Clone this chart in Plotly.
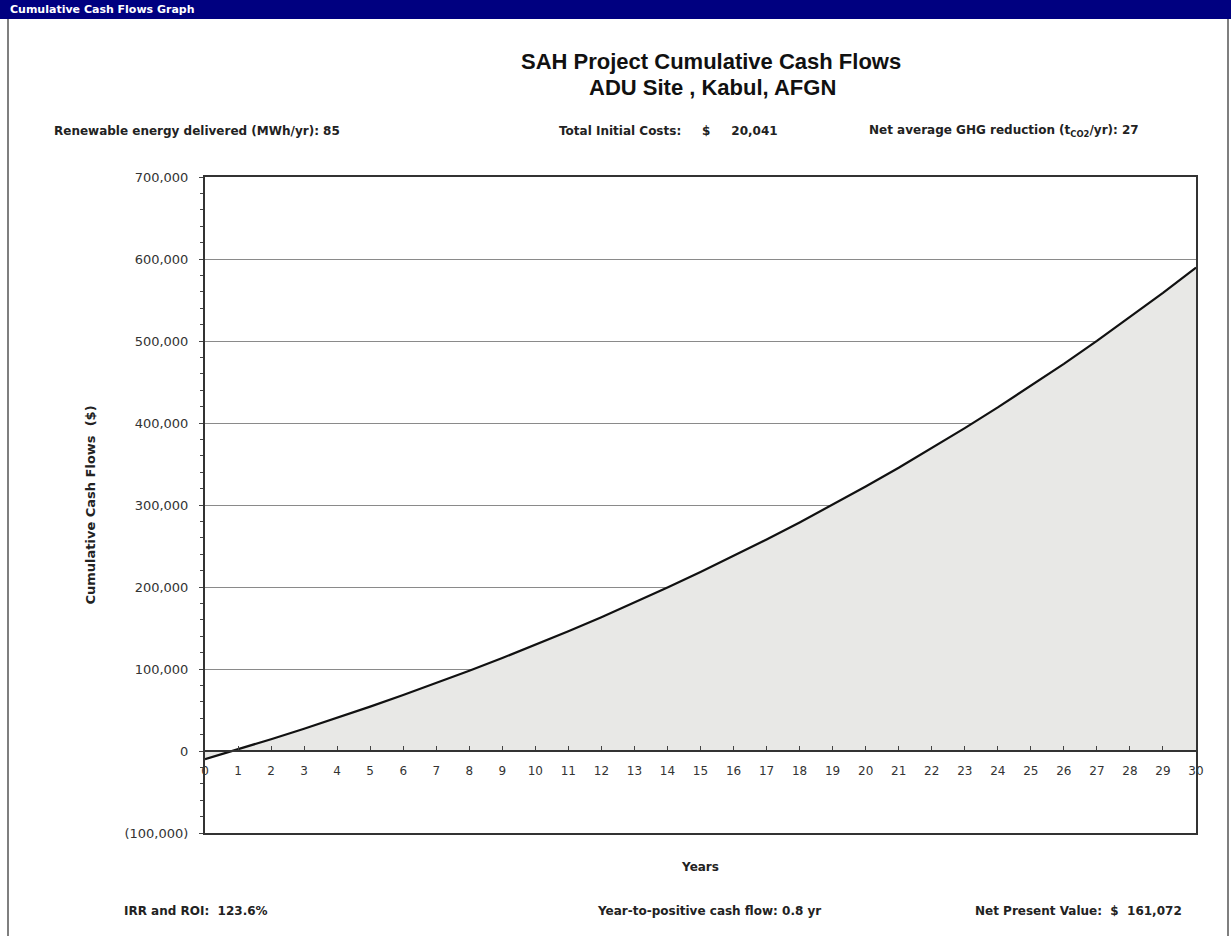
import plotly.graph_objects as go

# ---- data ----
years = list(range(0, 31))
cumulative_cash = [
    -10000, 2000, 14400, 27200, 40400, 54100, 68200, 82800, 97900, 113400,
    129500, 146100, 163200, 181000, 199300, 218200, 237700, 257900, 278700,
    300200, 322500, 345400, 369200, 393700, 419000, 445200, 472200, 500100,
    528900, 558700, 589500,
]
y_tick_vals = [-100000, 0, 100000, 200000, 300000, 400000, 500000, 600000, 700000]
y_tick_text = ["(100,000)", "0", "100,000", "200,000", "300,000", "400,000",
               "500,000", "600,000", "700,000"]
x_tick_vals = list(range(0, 31))

title_main = "SAH Project Cumulative Cash Flows"
title_sub = "ADU Site , Kabul, AFGN"
header_text = "Cumulative Cash Flows Graph"
top_info = [
    ("Renewable energy delivered (MWh/yr): 85", 52),
    ("Total Initial Costs:     $     20,041", 557),
    ("Net average GHG reduction (t<sub>CO2</sub>/yr): 27", 867),
]
bottom_info = [
    ("IRR and ROI:  123.6%", 122),
    ("Year-to-positive cash flow: 0.8 yr", 595),
    ("Net Present Value:  $  161,072", 973),
]

W, H = 1231, 936
L, R, T, B = 205, 35, 177, 103
PW, PH = W - L - R, H - T - B
FONT = "DejaVu Sans, Verdana, sans-serif"
TFONT = "Liberation Sans, Arial, sans-serif"

fig = go.Figure()
fig.add_trace(go.Scatter(
    x=years, y=cumulative_cash, mode="lines",
    line=dict(color="#111111", width=2.2),
    fill="tozeroy", fillcolor="#E8E8E6",
    hoverinfo="x+y", showlegend=False, xaxis="x", yaxis="y",
))
# same series on the frame axis (invisible) so the frame axis is drawn
fig.add_trace(go.Scatter(
    x=years, y=cumulative_cash, mode="lines",
    line=dict(color="rgba(0,0,0,0)", width=0),
    hoverinfo="skip", showlegend=False, xaxis="x2", yaxis="y",
))

ymin, ymax = -100000, 700000
zero_pos = (0 - ymin) / (ymax - ymin)

fig.update_layout(
    width=W, height=H,
    margin=dict(l=L, r=R, t=T, b=B),
    paper_bgcolor="white", plot_bgcolor="white",
    font=dict(family=FONT, size=12, color="#222"),
    showlegend=False,
    xaxis=dict(
        range=[0, 30], anchor="free", position=zero_pos,
        tickvals=x_tick_vals, ticktext=[str(v) for v in x_tick_vals],
        ticks="inside", ticklen=4, tickcolor="#444",
        ticklabelstandoff=9,
        showline=True, linecolor="#333", linewidth=2,
        showgrid=False, zeroline=False,
        tickfont=dict(size=12, color="#333", family=FONT),
    ),
    xaxis2=dict(
        range=[0, 30], overlaying="x", anchor="y", side="bottom",
        showline=True, mirror=True, linecolor="#333", linewidth=2,
        showticklabels=False, ticks="", showgrid=False, zeroline=False,
        title=dict(text="<b>Years</b>", font=dict(size=12, color="#222", family=FONT), standoff=29),
    ),
    yaxis=dict(
        range=[ymin, ymax],
        tickvals=y_tick_vals, ticktext=y_tick_text,
        ticks="outside", ticklen=4, tickcolor="#444",
        ticklabelstandoff=8,
        minor=dict(dtick=20000, ticks="outside", ticklen=3, tickcolor="#444", showgrid=False),
        showline=True, mirror=True, linecolor="#333", linewidth=2,
        showgrid=True, gridcolor="#8a8a8a", gridwidth=1,
        zeroline=False,
        tickfont=dict(size=13, color="#333", family=FONT),
        title=dict(text="<b>Cumulative Cash Flows  ($)</b>", font=dict(size=13, color="#222", family=FONT), standoff=26),
    ),
)


def px_x(px):
    return (px - L) / PW


def px_y(py):
    return 1 - (py - T) / PH


# header bar and outer frame
fig.add_shape(type="rect", xref="paper", yref="paper",
              x0=px_x(0), x1=px_x(W), y0=px_y(19), y1=px_y(0),
              fillcolor="#000080", line=dict(width=0), layer="above")
for xp in [8, 1228]:
    fig.add_shape(type="line", xref="paper", yref="paper",
                  x0=px_x(xp), x1=px_x(xp), y0=px_y(H), y1=px_y(19),
                  line=dict(color="#555", width=1.5))

fig.add_annotation(text="<b>" + header_text + "</b>", x=px_x(8), y=px_y(10),
                   xref="paper", yref="paper", xanchor="left", yanchor="middle",
                   showarrow=False, font=dict(size=11, color="white", family=FONT))

fig.add_annotation(text="<b>" + title_main + "</b>", x=px_x(711), y=px_y(61),
                   xref="paper", yref="paper", xanchor="center", yanchor="middle",
                   showarrow=False, font=dict(size=22, color="#111", family=TFONT))
fig.add_annotation(text="<b>" + title_sub + "</b>", x=px_x(712), y=px_y(88),
                   xref="paper", yref="paper", xanchor="center", yanchor="middle",
                   showarrow=False, font=dict(size=22, color="#111", family=TFONT))

for txt, xp in top_info:
    fig.add_annotation(text="<b>" + txt + "</b>", x=px_x(xp), y=px_y(131),
                       xref="paper", yref="paper", xanchor="left", yanchor="middle",
                       showarrow=False, font=dict(size=12, color="#222", family=FONT))
for txt, xp in bottom_info:
    fig.add_annotation(text="<b>" + txt + "</b>", x=px_x(xp), y=px_y(911),
                       xref="paper", yref="paper", xanchor="left", yanchor="middle",
                       showarrow=False, font=dict(size=12, color="#222", family=FONT))

fig.write_html("out.html", config={"displayModeBar": False},
               post_script="document.body.style.margin='0';document.body.style.overflow='hidden';")
